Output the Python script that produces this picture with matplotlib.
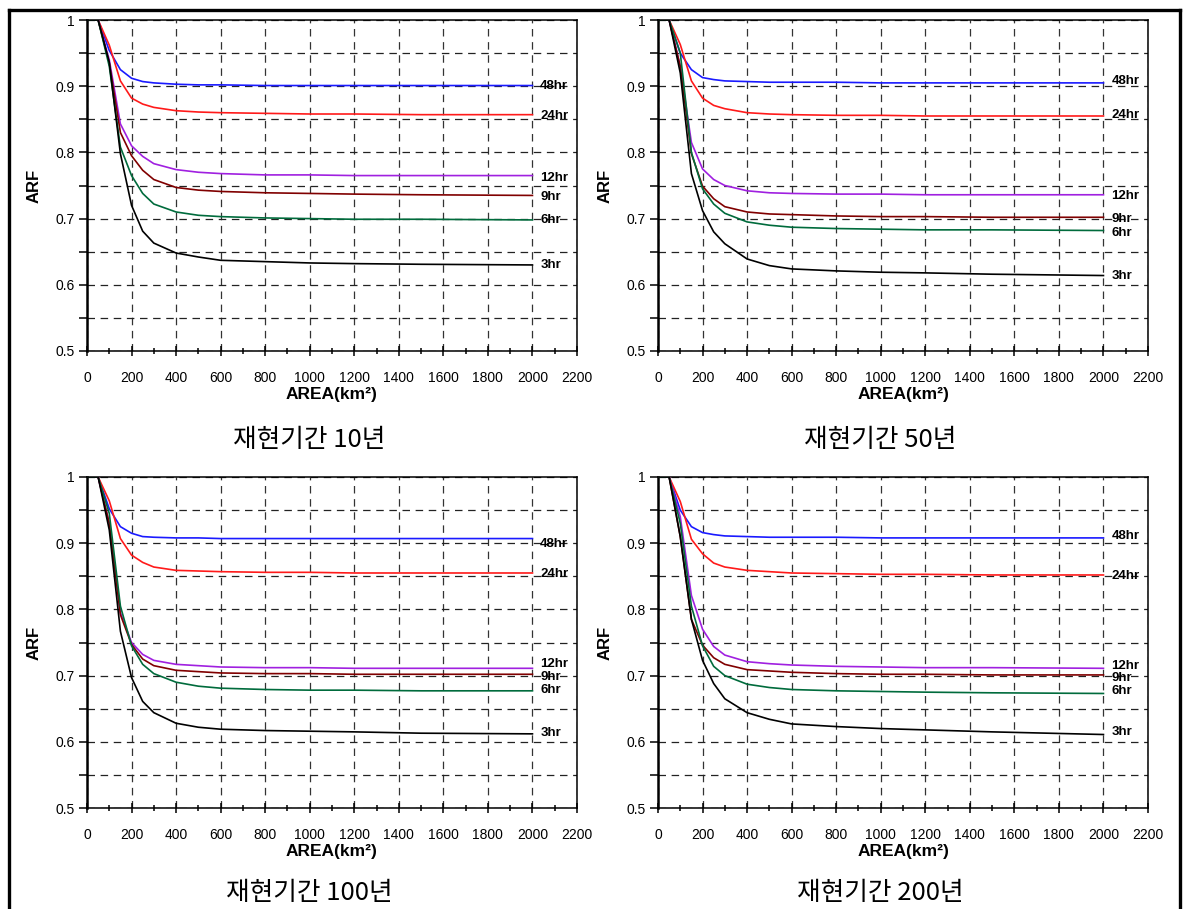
import matplotlib
matplotlib.use("Agg")
import matplotlib.pyplot as plt
from matplotlib.lines import Line2D
from matplotlib.ticker import MultipleLocator, FuncFormatter

# ---------------- data ----------------
AREA = [0, 50, 100, 150, 200, 250, 300, 400, 500, 600, 800, 1000, 1200, 1500, 2000]
DURATIONS = ["48hr", "24hr", "12hr", "9hr", "6hr", "3hr"]
COLORS = ["#1a1aff", "#ff1a1a", "#a020e0", "#800000", "#006b3c", "#000000"]
TITLES = ["재현기간 10년", "재현기간 50년", "재현기간 100년", "재현기간 200년"]

arf_10 = [
    [1, 1, 0.954, 0.925, 0.912, 0.907, 0.905, 0.903, 0.902, 0.902, 0.901, 0.901, 0.901, 0.901, 0.901],
    [1, 1, 0.962, 0.908, 0.882, 0.873, 0.868, 0.863, 0.861, 0.860, 0.859, 0.858, 0.858, 0.857, 0.857],
    [1, 1, 0.940, 0.843, 0.810, 0.794, 0.783, 0.774, 0.770, 0.768, 0.766, 0.766, 0.765, 0.765, 0.765],
    [1, 1, 0.935, 0.830, 0.795, 0.773, 0.759, 0.747, 0.743, 0.741, 0.739, 0.738, 0.737, 0.736, 0.735],
    [1, 1, 0.930, 0.808, 0.765, 0.738, 0.722, 0.710, 0.705, 0.703, 0.701, 0.700, 0.699, 0.699, 0.698],
    [1, 1, 0.936, 0.798, 0.720, 0.681, 0.663, 0.648, 0.642, 0.637, 0.635, 0.633, 0.632, 0.631, 0.630],
]
arf_50 = [
    [1, 1, 0.950, 0.925, 0.913, 0.910, 0.908, 0.907, 0.906, 0.906, 0.906, 0.905, 0.905, 0.905, 0.905],
    [1, 1, 0.963, 0.908, 0.882, 0.871, 0.866, 0.860, 0.858, 0.857, 0.856, 0.856, 0.855, 0.855, 0.855],
    [1, 1, 0.930, 0.815, 0.775, 0.759, 0.750, 0.742, 0.739, 0.738, 0.737, 0.737, 0.736, 0.736, 0.736],
    [1, 1, 0.930, 0.798, 0.749, 0.730, 0.718, 0.710, 0.707, 0.706, 0.704, 0.703, 0.703, 0.702, 0.702],
    [1, 1, 0.950, 0.800, 0.745, 0.722, 0.708, 0.695, 0.690, 0.687, 0.685, 0.684, 0.683, 0.683, 0.682],
    [1, 1, 0.920, 0.768, 0.712, 0.680, 0.662, 0.639, 0.629, 0.624, 0.621, 0.619, 0.618, 0.616, 0.614],
]
arf_100 = [
    [1, 1, 0.952, 0.925, 0.915, 0.910, 0.909, 0.908, 0.908, 0.907, 0.907, 0.907, 0.907, 0.907, 0.907],
    [1, 1, 0.964, 0.907, 0.882, 0.871, 0.864, 0.859, 0.858, 0.857, 0.856, 0.856, 0.855, 0.855, 0.855],
    [1, 1, 0.930, 0.795, 0.750, 0.732, 0.723, 0.717, 0.715, 0.713, 0.712, 0.712, 0.711, 0.711, 0.711],
    [1, 1, 0.930, 0.792, 0.747, 0.725, 0.715, 0.708, 0.706, 0.704, 0.703, 0.703, 0.702, 0.702, 0.702],
    [1, 1, 0.945, 0.805, 0.745, 0.717, 0.703, 0.690, 0.684, 0.681, 0.679, 0.678, 0.678, 0.677, 0.677],
    [1, 1, 0.920, 0.767, 0.697, 0.661, 0.644, 0.628, 0.622, 0.619, 0.617, 0.616, 0.615, 0.613, 0.612],
]
arf_200 = [
    [1, 1, 0.950, 0.925, 0.916, 0.913, 0.911, 0.910, 0.909, 0.909, 0.909, 0.908, 0.908, 0.908, 0.908],
    [1, 1, 0.963, 0.906, 0.884, 0.870, 0.864, 0.859, 0.857, 0.855, 0.854, 0.853, 0.853, 0.852, 0.852],
    [1, 1, 0.940, 0.821, 0.770, 0.744, 0.731, 0.721, 0.718, 0.716, 0.714, 0.713, 0.712, 0.712, 0.711],
    [1, 1, 0.910, 0.785, 0.746, 0.727, 0.717, 0.709, 0.707, 0.705, 0.703, 0.702, 0.702, 0.701, 0.701],
    [1, 1, 0.930, 0.805, 0.745, 0.714, 0.700, 0.687, 0.682, 0.679, 0.677, 0.676, 0.675, 0.674, 0.673],
    [1, 1, 0.910, 0.785, 0.723, 0.688, 0.665, 0.644, 0.634, 0.627, 0.623, 0.620, 0.618, 0.615, 0.611],
]
PANELS = [arf_10, arf_50, arf_100, arf_200]

# label heights (text placement at the right end of each curve)
label_y_10 = [0.900, 0.855, 0.762, 0.732, 0.698, 0.630]
label_y_50 = [0.908, 0.857, 0.734, 0.699, 0.678, 0.613]
label_y_100 = [0.899, 0.854, 0.718, 0.698, 0.678, 0.613]
label_y_200 = [0.911, 0.851, 0.715, 0.697, 0.677, 0.615]
LABEL_Y = [label_y_10, label_y_50, label_y_100, label_y_200]

# ---------------- figure ----------------
W, H = 1184, 909
fig = plt.figure(figsize=(W / 100, H / 100), dpi=100)
plt.rcParams["font.family"] = ["Liberation Sans", "DejaVu Sans"]

# axes boxes in pixels: (left, top, right, bottom)
boxes = [(87, 20, 577, 351), (658, 20, 1148, 351),
         (87, 477, 577, 808), (658, 477, 1148, 808)]
title_y = [440, 440, 893, 893]
title_dx = [-23, -23, -23, -23]

for i, (l, t, r, b) in enumerate(boxes):
    ax = fig.add_axes([l / W, 1 - b / H, (r - l) / W, (b - t) / H])
    ax.set_xlim(0, 2200)
    ax.set_ylim(0.5, 1.0)
    ax.xaxis.set_major_locator(MultipleLocator(200))
    ax.xaxis.set_minor_locator(MultipleLocator(100))
    ax.yaxis.set_major_locator(MultipleLocator(0.1))
    ax.yaxis.set_minor_locator(MultipleLocator(0.05))
    ax.yaxis.set_major_formatter(FuncFormatter(lambda v, p: f"{v:g}"))
    ax.grid(True, which="major", axis="x", color="#333333", lw=0.9,
            linestyle=(0, (6, 4.5)))
    ax.grid(True, which="both", axis="y", color="#222222", lw=0.9,
            linestyle=(0, (6, 4.5)))
    ax.set_axisbelow(True)
    ax.tick_params(axis="x", which="major", direction="inout", length=7, width=1.1,
                   labelsize=10, pad=11)
    ax.tick_params(axis="x", which="minor", direction="inout", length=5, width=1.1)
    ax.tick_params(axis="y", which="both", direction="out", length=6, width=1.1,
                   labelsize=10, pad=3)
    for s in ax.spines.values():
        s.set_linewidth(1.1)
    ax.spines["left"].set_linewidth(1.8)

    for j, dur in enumerate(DURATIONS):
        ax.plot(AREA, PANELS[i][j], color=COLORS[j], lw=1.2, zorder=3)
        ax.text(2035, LABEL_Y[i][j], dur, fontsize=9.5, fontweight="bold",
                ha="left", va="center", zorder=4)

    ax.set_ylabel("ARF", fontsize=12, fontweight="bold", labelpad=10)
    ax.set_xlabel("AREA(km²)", fontsize=12.5, fontweight="bold", labelpad=1)

    cx = (l + r) / 2 + title_dx[i]
    fig.text(cx / W, 1 - title_y[i] / H, TITLES[i], fontsize=18.5,
             family=["Noto Sans CJK KR", "DejaVu Sans"], ha="center", va="center")

# outer frame
lw = 2.4
fig.add_artist(Line2D([9 / W, 1180 / W], [1 - 10 / H, 1 - 10 / H], color="black", lw=lw))
fig.add_artist(Line2D([9 / W, 9 / W], [0, 1 - 10 / H], color="black", lw=lw))
fig.add_artist(Line2D([1180 / W, 1180 / W], [0, 1 - 10 / H], color="black", lw=lw))

fig.savefig("out.png", dpi=100)
